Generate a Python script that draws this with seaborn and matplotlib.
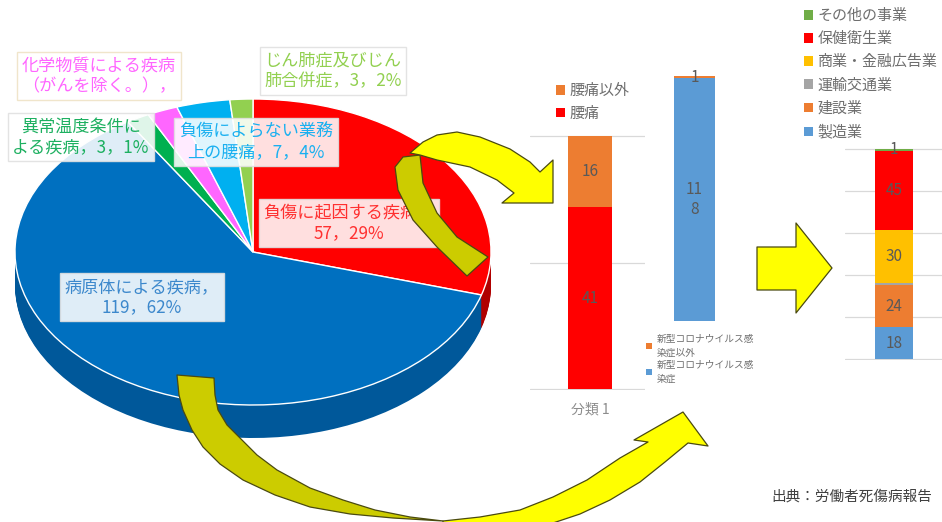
import numpy as np
import pandas as pd
import matplotlib
matplotlib.use("Agg")
import matplotlib.pyplot as plt
from matplotlib.patches import Patch, Polygon
import seaborn as sns

# ---- data -------------------------------------------------------------
disease_names = ["負傷に起因する疾病", "病原体による疾病", "異常温度条件による疾病",
                 "化学物質による疾病（がんを除く。）", "負傷によらない業務上の腰痛",
                 "じん肺症及びじん肺合併症"]
disease_counts = [57, 119, 3, 4, 7, 3]
disease_labels = ["負傷に起因する疾病，\n57，29%", "病原体による疾病，\n119，62%",
                  "異常温度条件に\nよる疾病，3，1%", "化学物質による疾病\n（がんを除く。），",
                  "負傷によらない業務\n上の腰痛，7，4%", "じん肺症及びじん\n肺合併症，3，2%"]

lumbar_parts = ["腰痛", "腰痛以外"]
lumbar_counts = [41, 16]

covid_parts = ["新型コロナウイルス感染症", "新型コロナウイルス感染症以外"]
covid_counts = [118, 1]

industry_names = ["製造業", "建設業", "運輸交通業", "商業・金融広告業", "保健衛生業", "その他の事業"]
industry_counts = [18, 24, 1, 30, 45, 1]

source_note = "出典：労働者死傷病報告"
category_label = "分類 1"

# ---- styles -----------------------------------------------------------
disease_colors = ["#FF0000", "#0070C0", "#00B050", "#FF66FF", "#00B0F0", "#92D050"]
disease_side = ["#B00000", "#00589A", "#007A3D", "#C040C0", "#0080B0", "#6A9A3A"]
disease_text = ["#FF3030", "#3C88CC", "#1DB060", "#FF66FF", "#1AB0F0", "#92D050"]
label_xy = [(349, 223), (142, 297), (81, 137), (99, 76), (256, 142), (333, 71)]
label_edge = ["#E0E0E0", "#E0E0E0", "#E0E0E0", "#EEE2C4", "#E0E0E0", "#E0E0E0"]

lumbar_colors = ["#FF0000", "#ED7D31"]
covid_colors = ["#5B9BD5", "#ED7D31"]
industry_colors = ["#5B9BD5", "#ED7D31", "#A5A5A5", "#FFC000", "#FF0000", "#70AD47"]

W, H = 942, 522
sns.set_theme(style="white")
plt.rcParams["font.family"] = ["Noto Sans CJK JP", "DejaVu Sans"]

fig = plt.figure(figsize=(W / 100, H / 100), dpi=100, facecolor="white")


def px_axes(x0, y0, x1, y1, z=1):
    ax = fig.add_axes([x0 / W, 1 - y1 / H, (x1 - x0) / W, (y1 - y0) / H])
    ax.set_zorder(z)
    ax.set_facecolor("none")
    return ax


# ---- 3-D looking pie --------------------------------------------------
pie_ax = fig.add_axes([0, 0, 1, 1])
pie_ax.set_zorder(0)
cx, cy, rx, ry = 253, 252, 238, 153
depth = 33 / ry
layers = 33
for k in range(layers, 0, -1):
    pie_ax.pie(disease_counts, colors=disease_side, startangle=90, counterclock=False,
               center=(0, -depth * k / layers), wedgeprops=dict(linewidth=0))
pie_ax.pie(disease_counts, colors=disease_colors, startangle=90, counterclock=False,
           wedgeprops=dict(edgecolor="white", linewidth=1.0))
pie_ax.set_aspect("auto")
pie_ax.set_xlim(-cx / rx, (W - cx) / rx)
pie_ax.set_ylim((cy - H) / ry, cy / ry)
pie_ax.axis("off")


# ---- stacked 100% bars ------------------------------------------------
def share_bar(ax, names, counts, colors, labels, xlim, grid):
    df = pd.DataFrame({"pos": 0, "part": names, "n": counts})
    sns.histplot(data=df, x="pos", weights="n", hue="part", hue_order=names[::-1],
                 multiple="fill", discrete=True, shrink=0.4,
                 palette=dict(zip(names, colors)), linewidth=0, alpha=1,
                 legend=False, ax=ax)
    total = sum(counts)
    for n, c, lab in zip(counts, np.cumsum(counts), labels):
        if lab:
            ax.text(0, (c - n / 2) / total, lab, ha="center", va="center",
                    fontsize=11, color="#595959", linespacing=1.25)
    ax.set_xlim(*xlim)
    ax.set_ylim(-0.004, 1.004)
    ax.set_yticks(grid)
    ax.yaxis.grid(bool(len(grid)), color="#D9D9D9", linewidth=0.9)
    ax.set_axisbelow(True)
    ax.tick_params(length=0, labelleft=False)
    ax.set_xlabel("")
    ax.set_ylabel("")
    sns.despine(ax=ax, left=True, bottom=True)


ax2 = px_axes(530, 135, 645, 390)
share_bar(ax2, lumbar_parts, lumbar_counts, lumbar_colors,
          [str(v) for v in lumbar_counts], (-0.545, 0.5), [0, 0.5, 1])
ax2.set_xticks([0])
ax2.set_xticklabels([category_label], color="#8C8C8C", fontsize=10)
ax2.tick_params(axis="x", pad=9)

ax3 = px_axes(640, 75, 750, 322)
covid_value_labels = [str(v) if v < 100 else str(v)[:2] + "\n" + str(v)[2:] for v in covid_counts]
share_bar(ax3, covid_parts, covid_counts, covid_colors, covid_value_labels,
          (-0.532, 0.541), [])
ax3.set_xticks([])

ax4 = px_axes(845, 148, 942, 360)
industry_value_labels = [str(v) if name != "運輸交通業" else "" for name, v in zip(industry_names, industry_counts)]
share_bar(ax4, industry_names, industry_counts, industry_colors, industry_value_labels,
          (-0.516, 0.505), [0, 0.2, 0.4, 0.6, 0.8, 1.0])
ax4.set_xticks([])


# legends
def legend_at(names, colors, x, y, size, spacing, textpad, linesp=None):
    handles = [Patch(facecolor=c, edgecolor="none") for c in colors]
    leg = fig.legend(handles, names, loc="upper left", bbox_to_anchor=(x / W, 1 - y / H),
                     frameon=False, fontsize=size, labelcolor="#6E6E6E", handlelength=0.6,
                     handleheight=0.6, handletextpad=textpad, borderpad=0, borderaxespad=0,
                     labelspacing=spacing)
    if linesp:
        for t in leg.get_texts():
            t.set_linespacing(linesp)
    return leg


legend_at(lumbar_parts[::-1], lumbar_colors[::-1], 556, 84, 10.8, 0.56, 0.3)
legend_at([n[:10] + "\n" + n[10:] for n in covid_parts[::-1]], covid_colors[::-1],
          646, 334, 7, 0.25, 0.5, 1.45)
legend_at(industry_names[::-1], industry_colors[::-1], 804, 9, 10.8, 0.6, 0.3)

# ---- overlay: slice labels, arrows, source ----------------------------
ov = fig.add_axes([0, 0, 1, 1])
ov.set_zorder(5)
ov.set_xlim(0, W)
ov.set_ylim(H, 0)
ov.axis("off")

for lab, (x, y), col, ec in zip(disease_labels, label_xy, disease_text, label_edge):
    ov.text(x, y, lab, ha="center", va="center", fontsize=12.3, color=col,
            linespacing=1.15, zorder=1,
            bbox=dict(boxstyle="square,pad=0.28", facecolor="white", alpha=0.88,
                      edgecolor=ec, linewidth=1.0))

YEL, OLV, EDGE = "#FFFF00", "#CCCC00", "#4A4A10"

arrow_back = [(395, 167), (398, 190), (413, 220), (437, 247), (467, 276), (488, 257),
              (457, 237), (437, 213), (423, 183), (420, 155), (403, 157)]
arrow_front = [(410, 153), (423, 142), (437, 135), (457, 132), (480, 137), (510, 149),
               (530, 162), (540, 172), (553, 160), (553, 203), (502, 203), (514, 193),
               (497, 180), (470, 167), (437, 160), (420, 155)]
big_back = [(177, 375), (179, 395), (183, 410), (192, 430), (203, 447), (220, 464),
            (243, 480), (275, 495), (310, 507), (350, 514), (393, 518), (443, 521),
            (410, 517), (375, 510), (343, 500), (310, 488), (277, 470), (257, 455),
            (240, 438), (227, 425), (218, 410), (215, 395), (214, 378)]
big_front = [(443, 521), (480, 517), (520, 510), (553, 497), (587, 480), (620, 458),
             (648, 442), (634, 440), (683, 412), (708, 446), (688, 443), (665, 462),
             (640, 482), (610, 500), (580, 514), (550, 524), (500, 527), (443, 524)]
block = [(757, 247), (796, 247), (796, 223), (832, 268), (796, 313), (796, 290), (757, 290)]

for pts, fc in [(arrow_back, OLV), (arrow_front, YEL), (big_back, OLV),
                (big_front, YEL), (block, YEL)]:
    ov.add_patch(Polygon(pts, closed=True, facecolor=fc, edgecolor=EDGE,
                         linewidth=0.9, joinstyle="round", zorder=3))

ov.text(932, 497, source_note, ha="right", va="center", fontsize=10.5, color="#404040")

fig.savefig("out.png", dpi=100, facecolor="white")
